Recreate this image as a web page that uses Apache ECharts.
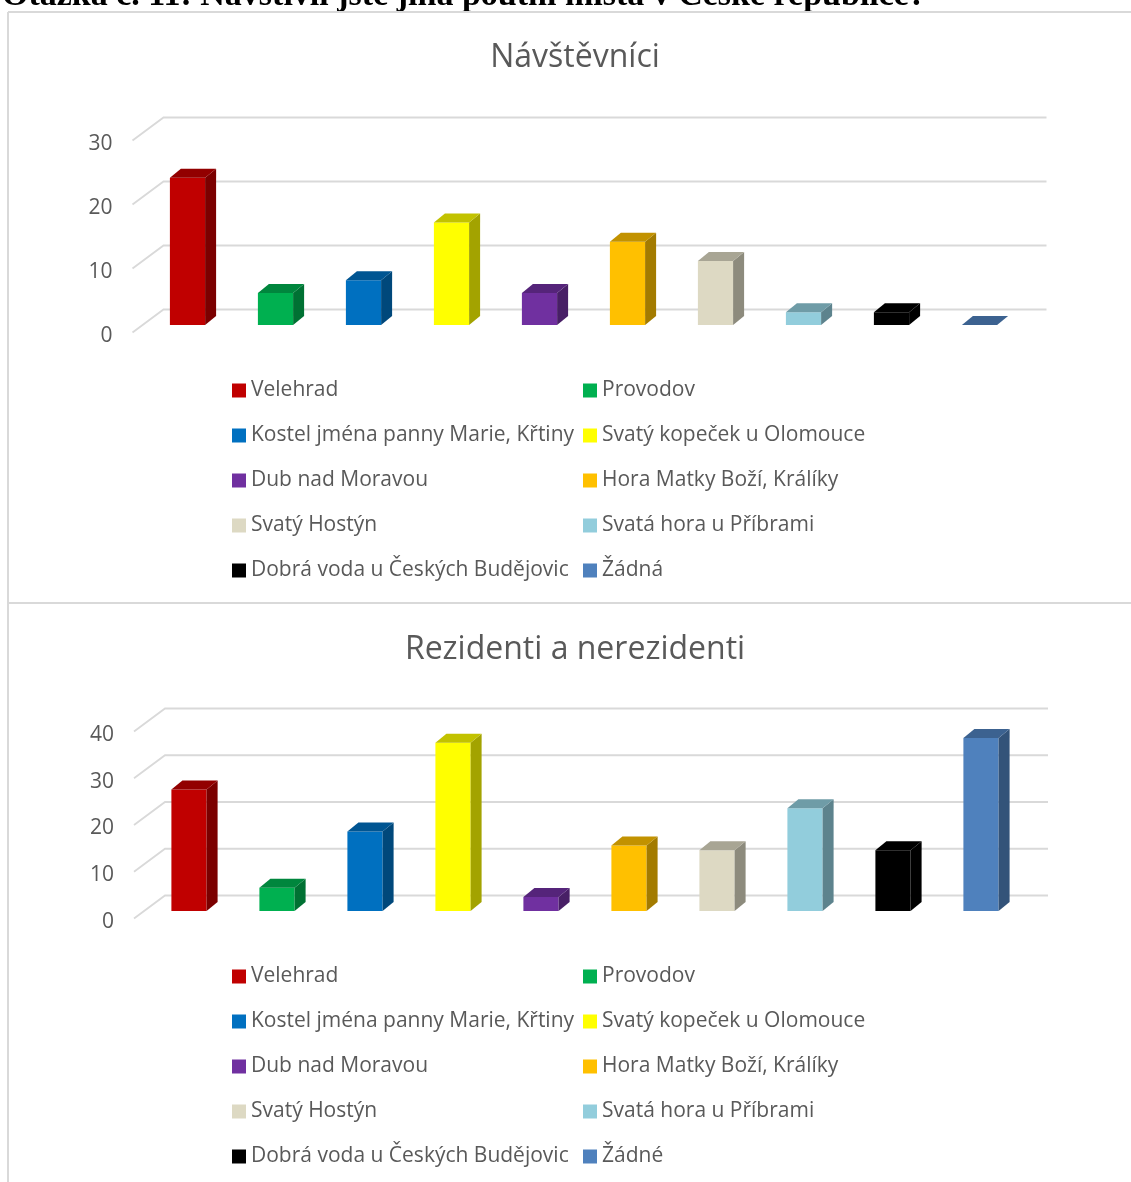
<!DOCTYPE html>
<html>
<head>
<meta charset="utf-8">
<script src="https://cdn.jsdelivr.net/npm/echarts@6/dist/echarts.min.js"></script>
<style>
  html, body { margin: 0; padding: 0; background: #fff; }
  #chart { width: 1131px; height: 1182px; }
</style>
</head>
<body>
<div id="chart"></div>
<script>
var visitorCategories = ['Velehrad', 'Provodov', 'Kostel jména panny Marie, Křtiny', 'Svatý kopeček u Olomouce',
    'Dub nad Moravou', 'Hora Matky Boží, Králíky', 'Svatý Hostýn', 'Svatá hora u Příbrami',
    'Dobrá voda u Českých Budějovic', 'Žádná'];
var residentCategories = ['Velehrad', 'Provodov', 'Kostel jména panny Marie, Křtiny', 'Svatý kopeček u Olomouce',
    'Dub nad Moravou', 'Hora Matky Boží, Králíky', 'Svatý Hostýn', 'Svatá hora u Příbrami',
    'Dobrá voda u Českých Budějovic', 'Žádné'];
var visitorValues = [23, 5, 7, 16, 5, 13, 10, 2, 2, 0];
var residentValues = [26, 5, 17, 36, 3, 14, 13, 22, 13, 37];
var visitorTicks = [0, 10, 20, 30];
var residentTicks = [0, 10, 20, 30, 40];
var colors = ['#C00000', '#00B050', '#0070C0', '#FFFF00', '#7030A0',
    '#FFC000', '#DDD9C3', '#92CDDC', '#000000', '#4F81BD'];

var DX = 11, DY = 9;
var textColor = '#595959';
var font = '"Open Sans", sans-serif';

function shade(hex, k) {
    var n = parseInt(hex.slice(1), 16);
    var r = Math.round(((n >> 16) & 255) * k);
    var g = Math.round(((n >> 8) & 255) * k);
    var b = Math.round((n & 255) * k);
    return 'rgb(' + r + ',' + g + ',' + b + ')';
}

// one 3d-looking column: front face, right side, top
function renderBar(params, api) {
    var idx = api.value(0);
    var base = api.coord([idx, 0]);
    var top = api.coord([idx, api.value(1)]);
    var w = api.size([1, 0])[0] * 0.4;
    var xl = base[0] - w / 2, xr = base[0] + w / 2;
    var c = colors[idx];
    return {
        type: 'group',
        children: [
            { type: 'rect', shape: { x: xl, y: top[1], width: w, height: base[1] - top[1] }, style: { fill: c } },
            { type: 'polygon', shape: { points: [[xr, base[1]], [xr + DX, base[1] - DY], [xr + DX, top[1] - DY], [xr, top[1]]] },
                style: { fill: shade(c, 0.64) } },
            { type: 'polygon', shape: { points: [[xl, top[1]], [xl + DX, top[1] - DY], [xr + DX, top[1] - DY], [xr, top[1]]] },
                style: { fill: shade(c, 0.76) } }
        ]
    };
}

// back wall lines with the little diagonal floor edge on the left
function renderWall(params, api) {
    var y = api.coord([0, api.value(1)])[1];
    var cs = params.coordSys;
    return {
        type: 'polyline',
        shape: { points: [[cs.x - 11, y + 7.5], [cs.x + 20, y - 15.5], [cs.x + cs.width + 23, y - 15.5]] },
        style: { stroke: '#d9d9d9', lineWidth: 1.8, fill: null }
    };
}

function makeSeries(cats, values, ticks, k) {
    var list = [{
        type: 'custom', name: 'wall' + k, xAxisIndex: k, yAxisIndex: k, z: 1, silent: true,
        data: ticks.map(function (t) { return [0, t]; }),
        renderItem: renderWall
    }];
    cats.forEach(function (name, i) {
        list.push({
            type: 'custom', name: name, xAxisIndex: k, yAxisIndex: k, z: 2,
            itemStyle: { color: colors[i] },
            data: [[i, values[i]]],
            renderItem: renderBar
        });
    });
    return list;
}

function makeLegend(cats, left, top, odd) {
    return {
        data: cats.filter(function (c, i) { return i % 2 === odd; }),
        orient: 'vertical', left: left, top: top, padding: 0,
        itemGap: 24, itemWidth: 14, itemHeight: 14, icon: 'rect',
        selectedMode: false,
        textStyle: { color: textColor, fontSize: 21, lineHeight: 21, fontFamily: font }
    };
}

function yAxisFor(k, max, lh) {
    return {
        type: 'value', gridIndex: k, min: 0, max: max, interval: 10,
        axisLine: { show: false }, axisTick: { show: false }, splitLine: { show: false },
        axisLabel: { color: textColor, fontSize: 21, fontFamily: font, margin: 31,
            verticalAlign: 'top', lineHeight: lh }
    };
}

var chart = echarts.init(document.getElementById('chart'));

var option = {
    animation: false,
    grid: [
        { left: 143.5, top: 133, width: 880, height: 192 },
        { left: 145, top: 724, width: 880, height: 187 }
    ],
    xAxis: [
        { type: 'category', gridIndex: 0, data: visitorCategories, show: false },
        { type: 'category', gridIndex: 1, data: residentCategories, show: false }
    ],
    yAxis: [yAxisFor(0, 30, 23), yAxisFor(1, 40, 22)],
    legend: [
        makeLegend(visitorCategories, 232, 380, 0),
        makeLegend(visitorCategories, 583, 380, 1),
        makeLegend(residentCategories, 232, 966, 0),
        makeLegend(residentCategories, 583, 966, 1)
    ],
    graphic: [
        { type: 'text', x: 2, y: 13, style: { text: 'Otázka č. 11: Navštívil jste jiná poutní místa v České republice?',
            font: 'bold 34px "Liberation Serif", serif', fill: '#000', verticalAlign: 'bottom' } },
        { type: 'line', shape: { x1: 8, y1: 12, x2: 1131, y2: 12 }, style: { stroke: '#d9d9d9', lineWidth: 2 } },
        { type: 'line', shape: { x1: 8, y1: 12, x2: 8, y2: 1182 }, style: { stroke: '#d9d9d9', lineWidth: 2 } },
        { type: 'line', shape: { x1: 8, y1: 603, x2: 1131, y2: 603 }, style: { stroke: '#d9d9d9', lineWidth: 2 } },
        { type: 'text', x: 575, y: 58, style: { text: 'Návštěvníci', font: '32px "Open Sans", sans-serif',
            fill: textColor, align: 'center', verticalAlign: 'middle' } },
        { type: 'text', x: 575, y: 650, style: { text: 'Rezidenti a nerezidenti', font: '32px "Open Sans", sans-serif',
            fill: textColor, align: 'center', verticalAlign: 'middle' } }
    ],
    series: makeSeries(visitorCategories, visitorValues, visitorTicks, 0)
        .concat(makeSeries(residentCategories, residentValues, residentTicks, 1))
};

chart.setOption(option);
</script>
</body>
</html>
